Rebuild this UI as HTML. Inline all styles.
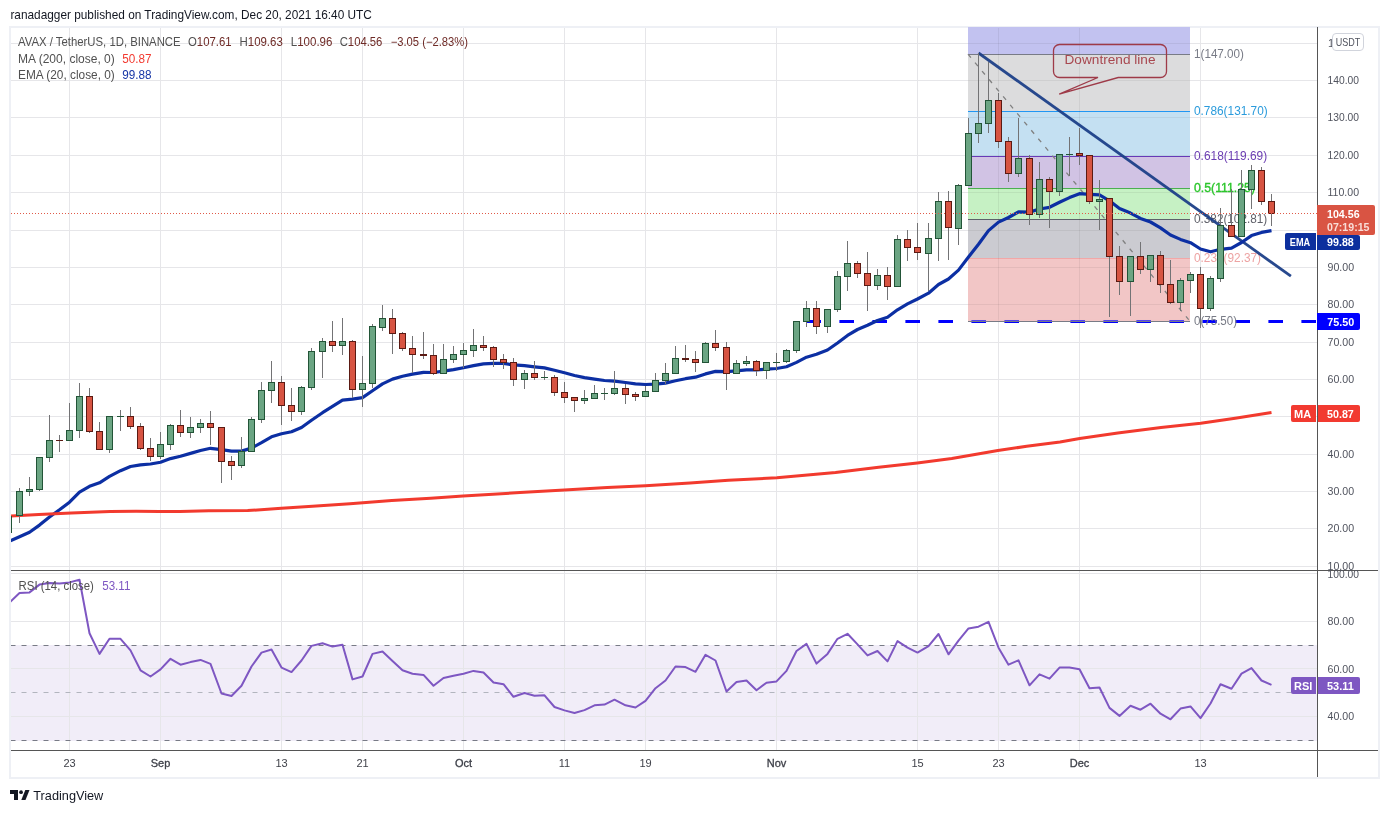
<!DOCTYPE html>
<html><head><meta charset="utf-8"><title>AVAX / TetherUS chart</title>
<style>
html,body{margin:0;padding:0;background:#ffffff;}
body{width:1389px;height:813px;overflow:hidden;position:relative;font-family:"Liberation Sans", sans-serif;}
svg{position:absolute;left:0;top:0;will-change:transform;}
svg text{font-family:"Liberation Sans", sans-serif;}
</style></head>
<body>
<svg width="1389" height="813" viewBox="0 0 1389 813">
<defs><clipPath id="cm"><rect x="11" y="27" width="1306" height="543"/></clipPath><clipPath id="cr"><rect x="11" y="571" width="1306" height="179"/></clipPath></defs>
<rect x="10" y="27" width="1369" height="751" fill="none" stroke="#eef0f5" stroke-width="2"/>
<g clip-path="url(#cm)">
<line x1="11" y1="43.5" x2="1317" y2="43.5" stroke="#e6e6e9" stroke-width="1"/>
<line x1="11" y1="80.5" x2="1317" y2="80.5" stroke="#e6e6e9" stroke-width="1"/>
<line x1="11" y1="117.5" x2="1317" y2="117.5" stroke="#e6e6e9" stroke-width="1"/>
<line x1="11" y1="155.5" x2="1317" y2="155.5" stroke="#e6e6e9" stroke-width="1"/>
<line x1="11" y1="192.5" x2="1317" y2="192.5" stroke="#e6e6e9" stroke-width="1"/>
<line x1="11" y1="230.5" x2="1317" y2="230.5" stroke="#e6e6e9" stroke-width="1"/>
<line x1="11" y1="267.5" x2="1317" y2="267.5" stroke="#e6e6e9" stroke-width="1"/>
<line x1="11" y1="304.5" x2="1317" y2="304.5" stroke="#e6e6e9" stroke-width="1"/>
<line x1="11" y1="342.5" x2="1317" y2="342.5" stroke="#e6e6e9" stroke-width="1"/>
<line x1="11" y1="379.5" x2="1317" y2="379.5" stroke="#e6e6e9" stroke-width="1"/>
<line x1="11" y1="416.5" x2="1317" y2="416.5" stroke="#e6e6e9" stroke-width="1"/>
<line x1="11" y1="454.5" x2="1317" y2="454.5" stroke="#e6e6e9" stroke-width="1"/>
<line x1="11" y1="491.5" x2="1317" y2="491.5" stroke="#e6e6e9" stroke-width="1"/>
<line x1="11" y1="528.5" x2="1317" y2="528.5" stroke="#e6e6e9" stroke-width="1"/>
<line x1="11" y1="566.5" x2="1317" y2="566.5" stroke="#e6e6e9" stroke-width="1"/>
<line x1="69.5" y1="28" x2="69.5" y2="570" stroke="#e6e6e9" stroke-width="1"/>
<line x1="160.5" y1="28" x2="160.5" y2="570" stroke="#e6e6e9" stroke-width="1"/>
<line x1="281.5" y1="28" x2="281.5" y2="570" stroke="#e6e6e9" stroke-width="1"/>
<line x1="362.5" y1="28" x2="362.5" y2="570" stroke="#e6e6e9" stroke-width="1"/>
<line x1="463.5" y1="28" x2="463.5" y2="570" stroke="#e6e6e9" stroke-width="1"/>
<line x1="564.5" y1="28" x2="564.5" y2="570" stroke="#e6e6e9" stroke-width="1"/>
<line x1="645.5" y1="28" x2="645.5" y2="570" stroke="#e6e6e9" stroke-width="1"/>
<line x1="776.5" y1="28" x2="776.5" y2="570" stroke="#e6e6e9" stroke-width="1"/>
<line x1="917.5" y1="28" x2="917.5" y2="570" stroke="#e6e6e9" stroke-width="1"/>
<line x1="998.5" y1="28" x2="998.5" y2="570" stroke="#e6e6e9" stroke-width="1"/>
<line x1="1079.5" y1="28" x2="1079.5" y2="570" stroke="#e6e6e9" stroke-width="1"/>
<line x1="1200.5" y1="28" x2="1200.5" y2="570" stroke="#e6e6e9" stroke-width="1"/>
<rect x="968" y="258" width="222" height="63" fill="#f2c6c6"/>
<rect x="968" y="219" width="222" height="39" fill="#cbcbd1"/>
<rect x="968" y="188" width="222" height="31" fill="#c6f1c4"/>
<rect x="968" y="156" width="222" height="32" fill="#d1c3e4"/>
<rect x="968" y="111" width="222" height="45" fill="#c4e0f2"/>
<rect x="968" y="54" width="222" height="57" fill="#dcdcdd"/>
<rect x="968" y="27" width="222" height="27" fill="#c2c2f0"/>
<line x1="968" y1="321.5" x2="1190" y2="321.5" stroke="#787b86" stroke-width="1"/>
<line x1="968" y1="258.5" x2="1190" y2="258.5" stroke="#f2a7a7" stroke-width="1"/>
<line x1="968" y1="219.5" x2="1190" y2="219.5" stroke="#5d606b" stroke-width="1"/>
<line x1="968" y1="188.5" x2="1190" y2="188.5" stroke="#4caf50" stroke-width="1"/>
<line x1="968" y1="156.5" x2="1190" y2="156.5" stroke="#673ab7" stroke-width="1"/>
<line x1="968" y1="111.5" x2="1190" y2="111.5" stroke="#2196f3" stroke-width="1"/>
<line x1="968" y1="54.5" x2="1190" y2="54.5" stroke="#787b86" stroke-width="1"/>
<line x1="968" y1="43.5" x2="1190" y2="43.5" stroke="#000" stroke-opacity="0.06" stroke-width="1"/>
<line x1="968" y1="80.5" x2="1190" y2="80.5" stroke="#000" stroke-opacity="0.06" stroke-width="1"/>
<line x1="968" y1="117.5" x2="1190" y2="117.5" stroke="#000" stroke-opacity="0.06" stroke-width="1"/>
<line x1="968" y1="155.5" x2="1190" y2="155.5" stroke="#000" stroke-opacity="0.06" stroke-width="1"/>
<line x1="968" y1="192.5" x2="1190" y2="192.5" stroke="#000" stroke-opacity="0.06" stroke-width="1"/>
<line x1="968" y1="230.5" x2="1190" y2="230.5" stroke="#000" stroke-opacity="0.06" stroke-width="1"/>
<line x1="968" y1="267.5" x2="1190" y2="267.5" stroke="#000" stroke-opacity="0.06" stroke-width="1"/>
<line x1="968" y1="304.5" x2="1190" y2="304.5" stroke="#000" stroke-opacity="0.06" stroke-width="1"/>
<line x1="998.5" y1="28" x2="998.5" y2="321" stroke="#000" stroke-opacity="0.06" stroke-width="1"/>
<line x1="1079.5" y1="28" x2="1079.5" y2="321" stroke="#000" stroke-opacity="0.06" stroke-width="1"/>
<line x1="968" y1="54.147999999999996" x2="1190" y2="321.272" stroke="#808080" stroke-width="1.3" stroke-dasharray="4.5 6.5"/>
<line x1="806.4" y1="321.5" x2="1317" y2="321.5" stroke="#0000ff" stroke-width="3" stroke-dasharray="14.6 18.4"/>
<line x1="968" y1="321.5" x2="1190" y2="321.5" stroke="#787b86" stroke-width="1"/>
<rect x="968" y="319.5" width="222" height="1.5" fill="#f2c6c6" fill-opacity="0.35"/>
<text x="1194" y="58" text-anchor="start" style="font-size:12px;fill:#787b86;" textLength="50" lengthAdjust="spacingAndGlyphs" >1(147.00)</text>
<text x="1194" y="114.8" text-anchor="start" style="font-size:12px;fill:#2a9bdc;" textLength="73.7" lengthAdjust="spacingAndGlyphs" >0.786(131.70)</text>
<text x="1194" y="159.6" text-anchor="start" style="font-size:12px;fill:#6b3db2;" textLength="73.2" lengthAdjust="spacingAndGlyphs" >0.618(119.69)</text>
<text x="1194" y="191.5" text-anchor="start" style="font-size:12px;fill:#2cc62c;" textLength="61" lengthAdjust="spacingAndGlyphs" stroke="#2cc62c" stroke-width="0.35">0.5(111.25)</text>
<text x="1194" y="222.9" text-anchor="start" style="font-size:12px;fill:#5f6069;" textLength="73.2" lengthAdjust="spacingAndGlyphs" >0.382(102.81)</text>
<text x="1194" y="261.7" text-anchor="start" style="font-size:12px;fill:#eda3a3;" textLength="67" lengthAdjust="spacingAndGlyphs" >0.236(92.37)</text>
<text x="1194" y="325" text-anchor="start" style="font-size:12px;fill:#787b86;" textLength="43.1" lengthAdjust="spacingAndGlyphs" >0(75.50)</text>
<line x1="978.5" y1="53" x2="1290.9" y2="276.2" stroke="#1c3f88" stroke-opacity="0.95" stroke-width="2.8" stroke-linecap="butt"/>
<path d="M1118.2,77.5 H1160.5 a6,6 0 0 0 6,-6 V50.5 a6,6 0 0 0 -6,-6 H1059.5 a6,6 0 0 0 -6,6 V71.5 a6,6 0 0 0 6,6 H1098 L1059.2,94.2 Z" fill="none" stroke="#9e3a48" stroke-width="1.3" stroke-linejoin="miter"/>
<text x="1064.5" y="63.8" text-anchor="start" style="font-size:12px;fill:#a84850;" textLength="91" lengthAdjust="spacingAndGlyphs" >Downtrend line</text>
<polyline points="8.5,541.5 19.5,536.7 29.5,532.2 39.5,525.1 49.5,517.0 59.5,509.8 69.5,502.2 79.5,492.1 89.5,486.3 99.5,482.8 109.5,476.4 120.5,470.7 130.5,466.5 140.5,464.8 150.5,464.0 160.5,462.2 170.5,458.6 180.5,456.2 190.5,453.4 200.5,450.5 210.5,448.3 221.5,449.6 231.5,451.1 241.5,451.1 251.5,448.1 261.5,442.6 271.5,436.8 281.5,433.8 291.5,431.7 301.5,427.5 311.5,420.2 322.5,412.7 332.5,406.3 342.5,400.1 352.5,399.1 362.5,397.6 372.5,390.8 382.5,383.9 392.5,379.1 402.5,376.2 412.5,374.1 423.5,372.4 433.5,372.5 443.5,371.2 453.5,369.6 463.5,367.7 473.5,365.6 483.5,363.9 493.5,363.4 503.5,363.4 513.5,364.9 524.5,365.7 534.5,366.9 544.5,367.9 554.5,370.2 564.5,372.8 574.5,375.5 584.5,377.6 594.5,379.1 604.5,380.5 614.5,381.2 625.5,382.5 635.5,383.8 645.5,384.5 655.5,384.1 665.5,383.1 675.5,380.8 685.5,378.7 695.5,377.2 705.5,373.9 715.5,371.4 726.5,371.6 736.5,370.8 746.5,369.9 756.5,369.9 766.5,369.2 776.5,368.5 786.5,366.7 796.5,362.4 806.5,357.2 816.5,354.3 827.5,350.0 837.5,343.0 847.5,335.4 857.5,329.5 867.5,325.3 877.5,320.5 887.5,317.3 897.5,309.8 907.5,303.9 917.5,299.0 928.5,293.2 938.5,284.5 948.5,279.0 958.5,270.1 968.5,257.0 978.5,244.3 988.5,230.6 998.5,222.1 1008.5,217.5 1018.5,211.9 1029.5,212.1 1039.5,209.0 1049.5,207.3 1059.5,202.3 1069.5,197.6 1079.5,193.7 1089.5,194.4 1099.5,194.9 1109.5,200.8 1119.5,208.5 1130.5,213.1 1140.5,218.4 1150.5,222.0 1160.5,227.9 1170.5,235.0 1180.5,239.4 1190.5,242.7 1200.5,249.0 1210.5,251.8 1220.5,249.3 1231.5,248.1 1241.5,242.5 1251.5,235.6 1261.5,232.4 1271.5,230.6" fill="none" stroke="#0c2fa3" stroke-width="3.2" stroke-linejoin="round"/>
<polyline points="8.0,516.2 10.4,516.0 38.9,514.4 71.3,513.1 110.1,511.4 136.1,511.2 159.4,511.5 180.0,511.4 208.9,510.8 247.7,510.6 281.4,508.3 312.5,506.3 350.0,503.7 391.8,500.4 430.7,498.2 463.1,495.9 520.0,492.6 564.4,490.1 607.2,487.6 645.4,485.8 690.0,483.1 728.4,480.2 776.8,477.8 835.5,472.5 878.7,467.3 917.3,462.9 951.8,458.6 974.9,454.6 997.9,450.5 1026.7,446.3 1060.0,442.1 1079.7,438.6 1117.8,432.9 1161.0,427.6 1200.7,423.3 1235.2,418.2 1271.5,412.5" fill="none" stroke="#f23a2e" stroke-width="3" stroke-linejoin="round"/>
<rect x="8" y="516" width="1" height="17" fill="#737375"/>
<rect x="5.5" y="516.5" width="6" height="16" fill="#6ba583" stroke="#225437" stroke-width="1"/>
<rect x="19" y="488" width="1" height="35" fill="#737375"/>
<rect x="16.5" y="491.5" width="6" height="24" fill="#6ba583" stroke="#225437" stroke-width="1"/>
<rect x="29" y="477" width="1" height="19" fill="#737375"/>
<rect x="26.5" y="489.5" width="6" height="2" fill="#6ba583" stroke="#225437" stroke-width="1"/>
<rect x="39" y="457" width="1" height="34" fill="#737375"/>
<rect x="36.5" y="457.5" width="6" height="32" fill="#6ba583" stroke="#225437" stroke-width="1"/>
<rect x="49" y="415" width="1" height="47" fill="#737375"/>
<rect x="46.5" y="440.5" width="6" height="17" fill="#6ba583" stroke="#225437" stroke-width="1"/>
<rect x="59" y="435" width="1" height="17" fill="#737375"/>
<rect x="56" y="440" width="7" height="1" fill="#5b1a13"/>
<rect x="69" y="403" width="1" height="38" fill="#737375"/>
<rect x="66.5" y="430.5" width="6" height="10" fill="#6ba583" stroke="#225437" stroke-width="1"/>
<rect x="79" y="383" width="1" height="55" fill="#737375"/>
<rect x="76.5" y="396.5" width="6" height="34" fill="#6ba583" stroke="#225437" stroke-width="1"/>
<rect x="89" y="388" width="1" height="45" fill="#737375"/>
<rect x="86.5" y="396.5" width="6" height="35" fill="#d75442" stroke="#5b1a13" stroke-width="1"/>
<rect x="99" y="422" width="1" height="28" fill="#737375"/>
<rect x="96.5" y="431.5" width="6" height="18" fill="#d75442" stroke="#5b1a13" stroke-width="1"/>
<rect x="109" y="416" width="1" height="37" fill="#737375"/>
<rect x="106.5" y="416.5" width="6" height="33" fill="#6ba583" stroke="#225437" stroke-width="1"/>
<rect x="120" y="410" width="1" height="21" fill="#737375"/>
<rect x="117" y="416" width="7" height="1" fill="#225437"/>
<rect x="130" y="407" width="1" height="22" fill="#737375"/>
<rect x="127.5" y="416.5" width="6" height="10" fill="#d75442" stroke="#5b1a13" stroke-width="1"/>
<rect x="140" y="423" width="1" height="27" fill="#737375"/>
<rect x="137.5" y="426.5" width="6" height="22" fill="#d75442" stroke="#5b1a13" stroke-width="1"/>
<rect x="150" y="438" width="1" height="23" fill="#737375"/>
<rect x="147.5" y="448.5" width="6" height="8" fill="#d75442" stroke="#5b1a13" stroke-width="1"/>
<rect x="160" y="432" width="1" height="27" fill="#737375"/>
<rect x="157.5" y="444.5" width="6" height="12" fill="#6ba583" stroke="#225437" stroke-width="1"/>
<rect x="170" y="424" width="1" height="26" fill="#737375"/>
<rect x="167.5" y="425.5" width="6" height="19" fill="#6ba583" stroke="#225437" stroke-width="1"/>
<rect x="180" y="410" width="1" height="27" fill="#737375"/>
<rect x="177.5" y="425.5" width="6" height="7" fill="#d75442" stroke="#5b1a13" stroke-width="1"/>
<rect x="190" y="417" width="1" height="21" fill="#737375"/>
<rect x="187.5" y="427.5" width="6" height="5" fill="#6ba583" stroke="#225437" stroke-width="1"/>
<rect x="200" y="419" width="1" height="14" fill="#737375"/>
<rect x="197.5" y="423.5" width="6" height="4" fill="#6ba583" stroke="#225437" stroke-width="1"/>
<rect x="210" y="411" width="1" height="34" fill="#737375"/>
<rect x="207.5" y="423.5" width="6" height="4" fill="#d75442" stroke="#5b1a13" stroke-width="1"/>
<rect x="221" y="427" width="1" height="56" fill="#737375"/>
<rect x="218.5" y="427.5" width="6" height="34" fill="#d75442" stroke="#5b1a13" stroke-width="1"/>
<rect x="231" y="456" width="1" height="24" fill="#737375"/>
<rect x="228.5" y="461.5" width="6" height="4" fill="#d75442" stroke="#5b1a13" stroke-width="1"/>
<rect x="241" y="437" width="1" height="31" fill="#737375"/>
<rect x="238.5" y="451.5" width="6" height="14" fill="#6ba583" stroke="#225437" stroke-width="1"/>
<rect x="251" y="417" width="1" height="35" fill="#737375"/>
<rect x="248.5" y="419.5" width="6" height="32" fill="#6ba583" stroke="#225437" stroke-width="1"/>
<rect x="261" y="382" width="1" height="41" fill="#737375"/>
<rect x="258.5" y="390.5" width="6" height="29" fill="#6ba583" stroke="#225437" stroke-width="1"/>
<rect x="271" y="361" width="1" height="42" fill="#737375"/>
<rect x="268.5" y="382.5" width="6" height="8" fill="#6ba583" stroke="#225437" stroke-width="1"/>
<rect x="281" y="376" width="1" height="49" fill="#737375"/>
<rect x="278.5" y="382.5" width="6" height="23" fill="#d75442" stroke="#5b1a13" stroke-width="1"/>
<rect x="291" y="388" width="1" height="33" fill="#737375"/>
<rect x="288.5" y="405.5" width="6" height="6" fill="#d75442" stroke="#5b1a13" stroke-width="1"/>
<rect x="301" y="386" width="1" height="29" fill="#737375"/>
<rect x="298.5" y="387.5" width="6" height="24" fill="#6ba583" stroke="#225437" stroke-width="1"/>
<rect x="311" y="348" width="1" height="42" fill="#737375"/>
<rect x="308.5" y="351.5" width="6" height="36" fill="#6ba583" stroke="#225437" stroke-width="1"/>
<rect x="322" y="338" width="1" height="40" fill="#737375"/>
<rect x="319.5" y="341.5" width="6" height="10" fill="#6ba583" stroke="#225437" stroke-width="1"/>
<rect x="332" y="321" width="1" height="31" fill="#737375"/>
<rect x="329.5" y="341.5" width="6" height="4" fill="#d75442" stroke="#5b1a13" stroke-width="1"/>
<rect x="342" y="318" width="1" height="37" fill="#737375"/>
<rect x="339.5" y="341.5" width="6" height="4" fill="#6ba583" stroke="#225437" stroke-width="1"/>
<rect x="352" y="340" width="1" height="58" fill="#737375"/>
<rect x="349.5" y="341.5" width="6" height="48" fill="#d75442" stroke="#5b1a13" stroke-width="1"/>
<rect x="362" y="356" width="1" height="51" fill="#737375"/>
<rect x="359.5" y="383.5" width="6" height="6" fill="#6ba583" stroke="#225437" stroke-width="1"/>
<rect x="372" y="324" width="1" height="64" fill="#737375"/>
<rect x="369.5" y="326.5" width="6" height="57" fill="#6ba583" stroke="#225437" stroke-width="1"/>
<rect x="382" y="305" width="1" height="26" fill="#737375"/>
<rect x="379.5" y="318.5" width="6" height="9" fill="#6ba583" stroke="#225437" stroke-width="1"/>
<rect x="392" y="309" width="1" height="45" fill="#737375"/>
<rect x="389.5" y="318.5" width="6" height="15" fill="#d75442" stroke="#5b1a13" stroke-width="1"/>
<rect x="402" y="332" width="1" height="19" fill="#737375"/>
<rect x="399.5" y="333.5" width="6" height="15" fill="#d75442" stroke="#5b1a13" stroke-width="1"/>
<rect x="412" y="336" width="1" height="37" fill="#737375"/>
<rect x="409.5" y="348.5" width="6" height="6" fill="#d75442" stroke="#5b1a13" stroke-width="1"/>
<rect x="423" y="332" width="1" height="27" fill="#737375"/>
<rect x="420" y="354" width="7" height="2" fill="#5b1a13"/>
<rect x="433" y="344" width="1" height="31" fill="#737375"/>
<rect x="430.5" y="355.5" width="6" height="18" fill="#d75442" stroke="#5b1a13" stroke-width="1"/>
<rect x="443" y="344" width="1" height="30" fill="#737375"/>
<rect x="440.5" y="359.5" width="6" height="14" fill="#6ba583" stroke="#225437" stroke-width="1"/>
<rect x="453" y="346" width="1" height="17" fill="#737375"/>
<rect x="450.5" y="354.5" width="6" height="5" fill="#6ba583" stroke="#225437" stroke-width="1"/>
<rect x="463" y="343" width="1" height="25" fill="#737375"/>
<rect x="460.5" y="350.5" width="6" height="4" fill="#6ba583" stroke="#225437" stroke-width="1"/>
<rect x="473" y="329" width="1" height="28" fill="#737375"/>
<rect x="470.5" y="345.5" width="6" height="5" fill="#6ba583" stroke="#225437" stroke-width="1"/>
<rect x="483" y="336" width="1" height="15" fill="#737375"/>
<rect x="480.5" y="345.5" width="6" height="2" fill="#d75442" stroke="#5b1a13" stroke-width="1"/>
<rect x="493" y="346" width="1" height="21" fill="#737375"/>
<rect x="490.5" y="347.5" width="6" height="12" fill="#d75442" stroke="#5b1a13" stroke-width="1"/>
<rect x="503" y="354" width="1" height="15" fill="#737375"/>
<rect x="500.5" y="359.5" width="6" height="3" fill="#d75442" stroke="#5b1a13" stroke-width="1"/>
<rect x="513" y="358" width="1" height="28" fill="#737375"/>
<rect x="510.5" y="362.5" width="6" height="17" fill="#d75442" stroke="#5b1a13" stroke-width="1"/>
<rect x="524" y="370" width="1" height="19" fill="#737375"/>
<rect x="521.5" y="373.5" width="6" height="6" fill="#6ba583" stroke="#225437" stroke-width="1"/>
<rect x="534" y="361" width="1" height="19" fill="#737375"/>
<rect x="531.5" y="373.5" width="6" height="4" fill="#d75442" stroke="#5b1a13" stroke-width="1"/>
<rect x="544" y="371" width="1" height="9" fill="#737375"/>
<rect x="541" y="377" width="7" height="1" fill="#225437"/>
<rect x="554" y="375" width="1" height="21" fill="#737375"/>
<rect x="551.5" y="377.5" width="6" height="15" fill="#d75442" stroke="#5b1a13" stroke-width="1"/>
<rect x="564" y="382" width="1" height="21" fill="#737375"/>
<rect x="561.5" y="392.5" width="6" height="5" fill="#d75442" stroke="#5b1a13" stroke-width="1"/>
<rect x="574" y="397" width="1" height="15" fill="#737375"/>
<rect x="571.5" y="397.5" width="6" height="3" fill="#d75442" stroke="#5b1a13" stroke-width="1"/>
<rect x="584" y="390" width="1" height="14" fill="#737375"/>
<rect x="581.5" y="398.5" width="6" height="2" fill="#6ba583" stroke="#225437" stroke-width="1"/>
<rect x="594" y="385" width="1" height="14" fill="#737375"/>
<rect x="591.5" y="393.5" width="6" height="5" fill="#6ba583" stroke="#225437" stroke-width="1"/>
<rect x="604" y="388" width="1" height="12" fill="#737375"/>
<rect x="601" y="393" width="7" height="1" fill="#225437"/>
<rect x="614" y="371" width="1" height="24" fill="#737375"/>
<rect x="611.5" y="388.5" width="6" height="5" fill="#6ba583" stroke="#225437" stroke-width="1"/>
<rect x="625" y="384" width="1" height="20" fill="#737375"/>
<rect x="622.5" y="388.5" width="6" height="6" fill="#d75442" stroke="#5b1a13" stroke-width="1"/>
<rect x="635" y="392" width="1" height="9" fill="#737375"/>
<rect x="632.5" y="394.5" width="6" height="2" fill="#d75442" stroke="#5b1a13" stroke-width="1"/>
<rect x="645" y="386" width="1" height="11" fill="#737375"/>
<rect x="642.5" y="391.5" width="6" height="5" fill="#6ba583" stroke="#225437" stroke-width="1"/>
<rect x="655" y="373" width="1" height="19" fill="#737375"/>
<rect x="652.5" y="380.5" width="6" height="11" fill="#6ba583" stroke="#225437" stroke-width="1"/>
<rect x="665" y="363" width="1" height="21" fill="#737375"/>
<rect x="662.5" y="373.5" width="6" height="7" fill="#6ba583" stroke="#225437" stroke-width="1"/>
<rect x="675" y="346" width="1" height="28" fill="#737375"/>
<rect x="672.5" y="358.5" width="6" height="15" fill="#6ba583" stroke="#225437" stroke-width="1"/>
<rect x="685" y="345" width="1" height="17" fill="#737375"/>
<rect x="682" y="358" width="7" height="2" fill="#5b1a13"/>
<rect x="695" y="351" width="1" height="21" fill="#737375"/>
<rect x="692.5" y="359.5" width="6" height="3" fill="#d75442" stroke="#5b1a13" stroke-width="1"/>
<rect x="705" y="342" width="1" height="21" fill="#737375"/>
<rect x="702.5" y="343.5" width="6" height="19" fill="#6ba583" stroke="#225437" stroke-width="1"/>
<rect x="715" y="330" width="1" height="21" fill="#737375"/>
<rect x="712.5" y="343.5" width="6" height="4" fill="#d75442" stroke="#5b1a13" stroke-width="1"/>
<rect x="726" y="342" width="1" height="48" fill="#737375"/>
<rect x="723.5" y="347.5" width="6" height="26" fill="#d75442" stroke="#5b1a13" stroke-width="1"/>
<rect x="736" y="360" width="1" height="14" fill="#737375"/>
<rect x="733.5" y="363.5" width="6" height="10" fill="#6ba583" stroke="#225437" stroke-width="1"/>
<rect x="746" y="356" width="1" height="10" fill="#737375"/>
<rect x="743.5" y="361.5" width="6" height="2" fill="#6ba583" stroke="#225437" stroke-width="1"/>
<rect x="756" y="360" width="1" height="16" fill="#737375"/>
<rect x="753.5" y="361.5" width="6" height="9" fill="#d75442" stroke="#5b1a13" stroke-width="1"/>
<rect x="766" y="362" width="1" height="17" fill="#737375"/>
<rect x="763.5" y="362.5" width="6" height="8" fill="#6ba583" stroke="#225437" stroke-width="1"/>
<rect x="776" y="353" width="1" height="18" fill="#737375"/>
<rect x="773" y="362" width="7" height="1" fill="#225437"/>
<rect x="786" y="349" width="1" height="14" fill="#737375"/>
<rect x="783.5" y="350.5" width="6" height="11" fill="#6ba583" stroke="#225437" stroke-width="1"/>
<rect x="796" y="321" width="1" height="32" fill="#737375"/>
<rect x="793.5" y="321.5" width="6" height="29" fill="#6ba583" stroke="#225437" stroke-width="1"/>
<rect x="806" y="301" width="1" height="26" fill="#737375"/>
<rect x="803.5" y="308.5" width="6" height="13" fill="#6ba583" stroke="#225437" stroke-width="1"/>
<rect x="816" y="301" width="1" height="33" fill="#737375"/>
<rect x="813.5" y="308.5" width="6" height="18" fill="#d75442" stroke="#5b1a13" stroke-width="1"/>
<rect x="827" y="309" width="1" height="24" fill="#737375"/>
<rect x="824.5" y="309.5" width="6" height="17" fill="#6ba583" stroke="#225437" stroke-width="1"/>
<rect x="837" y="271" width="1" height="41" fill="#737375"/>
<rect x="834.5" y="276.5" width="6" height="33" fill="#6ba583" stroke="#225437" stroke-width="1"/>
<rect x="847" y="241" width="1" height="50" fill="#737375"/>
<rect x="844.5" y="263.5" width="6" height="13" fill="#6ba583" stroke="#225437" stroke-width="1"/>
<rect x="857" y="261" width="1" height="17" fill="#737375"/>
<rect x="854.5" y="263.5" width="6" height="10" fill="#d75442" stroke="#5b1a13" stroke-width="1"/>
<rect x="867" y="252" width="1" height="59" fill="#737375"/>
<rect x="864.5" y="273.5" width="6" height="12" fill="#d75442" stroke="#5b1a13" stroke-width="1"/>
<rect x="877" y="269" width="1" height="21" fill="#737375"/>
<rect x="874.5" y="275.5" width="6" height="10" fill="#6ba583" stroke="#225437" stroke-width="1"/>
<rect x="887" y="267" width="1" height="33" fill="#737375"/>
<rect x="884.5" y="275.5" width="6" height="11" fill="#d75442" stroke="#5b1a13" stroke-width="1"/>
<rect x="897" y="235" width="1" height="52" fill="#737375"/>
<rect x="894.5" y="239.5" width="6" height="47" fill="#6ba583" stroke="#225437" stroke-width="1"/>
<rect x="907" y="230" width="1" height="31" fill="#737375"/>
<rect x="904.5" y="239.5" width="6" height="8" fill="#d75442" stroke="#5b1a13" stroke-width="1"/>
<rect x="917" y="223" width="1" height="37" fill="#737375"/>
<rect x="914.5" y="247.5" width="6" height="5" fill="#d75442" stroke="#5b1a13" stroke-width="1"/>
<rect x="928" y="223" width="1" height="68" fill="#737375"/>
<rect x="925.5" y="238.5" width="6" height="15" fill="#6ba583" stroke="#225437" stroke-width="1"/>
<rect x="938" y="192" width="1" height="69" fill="#737375"/>
<rect x="935.5" y="201.5" width="6" height="37" fill="#6ba583" stroke="#225437" stroke-width="1"/>
<rect x="948" y="191" width="1" height="69" fill="#737375"/>
<rect x="945.5" y="201.5" width="6" height="26" fill="#d75442" stroke="#5b1a13" stroke-width="1"/>
<rect x="958" y="184" width="1" height="61" fill="#737375"/>
<rect x="955.5" y="185.5" width="6" height="43" fill="#6ba583" stroke="#225437" stroke-width="1"/>
<rect x="968" y="118" width="1" height="68" fill="#737375"/>
<rect x="965.5" y="133.5" width="6" height="52" fill="#6ba583" stroke="#225437" stroke-width="1"/>
<rect x="978" y="53" width="1" height="90" fill="#737375"/>
<rect x="975.5" y="123.5" width="6" height="10" fill="#6ba583" stroke="#225437" stroke-width="1"/>
<rect x="988" y="62" width="1" height="71" fill="#737375"/>
<rect x="985.5" y="100.5" width="6" height="23" fill="#6ba583" stroke="#225437" stroke-width="1"/>
<rect x="998" y="93" width="1" height="55" fill="#737375"/>
<rect x="995.5" y="100.5" width="6" height="41" fill="#d75442" stroke="#5b1a13" stroke-width="1"/>
<rect x="1008" y="137" width="1" height="45" fill="#737375"/>
<rect x="1005.5" y="141.5" width="6" height="32" fill="#d75442" stroke="#5b1a13" stroke-width="1"/>
<rect x="1018" y="118" width="1" height="59" fill="#737375"/>
<rect x="1015.5" y="158.5" width="6" height="15" fill="#6ba583" stroke="#225437" stroke-width="1"/>
<rect x="1029" y="155" width="1" height="70" fill="#737375"/>
<rect x="1026.5" y="158.5" width="6" height="56" fill="#d75442" stroke="#5b1a13" stroke-width="1"/>
<rect x="1039" y="162" width="1" height="56" fill="#737375"/>
<rect x="1036.5" y="179.5" width="6" height="35" fill="#6ba583" stroke="#225437" stroke-width="1"/>
<rect x="1049" y="177" width="1" height="51" fill="#737375"/>
<rect x="1046.5" y="179.5" width="6" height="12" fill="#d75442" stroke="#5b1a13" stroke-width="1"/>
<rect x="1059" y="154" width="1" height="42" fill="#737375"/>
<rect x="1056.5" y="154.5" width="6" height="37" fill="#6ba583" stroke="#225437" stroke-width="1"/>
<rect x="1069" y="137" width="1" height="39" fill="#737375"/>
<rect x="1066" y="154" width="7" height="1" fill="#225437"/>
<rect x="1079" y="128" width="1" height="37" fill="#737375"/>
<rect x="1076.5" y="153.5" width="6" height="2" fill="#d75442" stroke="#5b1a13" stroke-width="1"/>
<rect x="1089" y="156" width="1" height="48" fill="#737375"/>
<rect x="1086.5" y="155.5" width="6" height="46" fill="#d75442" stroke="#5b1a13" stroke-width="1"/>
<rect x="1099" y="180" width="1" height="50" fill="#737375"/>
<rect x="1096.5" y="199.5" width="6" height="2" fill="#6ba583" stroke="#225437" stroke-width="1"/>
<rect x="1109" y="198" width="1" height="119" fill="#737375"/>
<rect x="1106.5" y="198.5" width="6" height="58" fill="#d75442" stroke="#5b1a13" stroke-width="1"/>
<rect x="1119" y="246" width="1" height="49" fill="#737375"/>
<rect x="1116.5" y="256.5" width="6" height="25" fill="#d75442" stroke="#5b1a13" stroke-width="1"/>
<rect x="1130" y="257" width="1" height="59" fill="#737375"/>
<rect x="1127.5" y="256.5" width="6" height="25" fill="#6ba583" stroke="#225437" stroke-width="1"/>
<rect x="1140" y="242" width="1" height="32" fill="#737375"/>
<rect x="1137.5" y="256.5" width="6" height="13" fill="#d75442" stroke="#5b1a13" stroke-width="1"/>
<rect x="1150" y="256" width="1" height="26" fill="#737375"/>
<rect x="1147.5" y="255.5" width="6" height="14" fill="#6ba583" stroke="#225437" stroke-width="1"/>
<rect x="1160" y="251" width="1" height="42" fill="#737375"/>
<rect x="1157.5" y="255.5" width="6" height="29" fill="#d75442" stroke="#5b1a13" stroke-width="1"/>
<rect x="1170" y="260" width="1" height="44" fill="#737375"/>
<rect x="1167.5" y="284.5" width="6" height="18" fill="#d75442" stroke="#5b1a13" stroke-width="1"/>
<rect x="1180" y="278" width="1" height="33" fill="#737375"/>
<rect x="1177.5" y="280.5" width="6" height="22" fill="#6ba583" stroke="#225437" stroke-width="1"/>
<rect x="1190" y="272" width="1" height="21" fill="#737375"/>
<rect x="1187.5" y="274.5" width="6" height="6" fill="#6ba583" stroke="#225437" stroke-width="1"/>
<rect x="1200" y="267" width="1" height="61" fill="#737375"/>
<rect x="1197.5" y="274.5" width="6" height="34" fill="#d75442" stroke="#5b1a13" stroke-width="1"/>
<rect x="1210" y="276" width="1" height="35" fill="#737375"/>
<rect x="1207.5" y="278.5" width="6" height="30" fill="#6ba583" stroke="#225437" stroke-width="1"/>
<rect x="1220" y="208" width="1" height="74" fill="#737375"/>
<rect x="1217.5" y="225.5" width="6" height="53" fill="#6ba583" stroke="#225437" stroke-width="1"/>
<rect x="1231" y="189" width="1" height="48" fill="#737375"/>
<rect x="1228.5" y="225.5" width="6" height="11" fill="#d75442" stroke="#5b1a13" stroke-width="1"/>
<rect x="1241" y="170" width="1" height="67" fill="#737375"/>
<rect x="1238.5" y="189.5" width="6" height="47" fill="#6ba583" stroke="#225437" stroke-width="1"/>
<rect x="1251" y="165" width="1" height="44" fill="#737375"/>
<rect x="1248.5" y="170.5" width="6" height="19" fill="#6ba583" stroke="#225437" stroke-width="1"/>
<rect x="1261" y="167" width="1" height="38" fill="#737375"/>
<rect x="1258.5" y="170.5" width="6" height="31" fill="#d75442" stroke="#5b1a13" stroke-width="1"/>
<rect x="1271" y="194" width="1" height="32" fill="#737375"/>
<rect x="1268.5" y="201.5" width="6" height="12" fill="#d75442" stroke="#5b1a13" stroke-width="1"/>
<line x1="11" y1="213.5" x2="1317" y2="213.5" stroke="#e05a48" stroke-width="1" stroke-dasharray="1 2"/>
</g>
<g clip-path="url(#cr)">
<rect x="11" y="645" width="1306" height="96" fill="#7e57c2" fill-opacity="0.11"/>
<line x1="69.5" y1="571" x2="69.5" y2="750" stroke="#e6e6e9" stroke-width="1"/>
<line x1="160.5" y1="571" x2="160.5" y2="750" stroke="#e6e6e9" stroke-width="1"/>
<line x1="281.5" y1="571" x2="281.5" y2="750" stroke="#e6e6e9" stroke-width="1"/>
<line x1="362.5" y1="571" x2="362.5" y2="750" stroke="#e6e6e9" stroke-width="1"/>
<line x1="463.5" y1="571" x2="463.5" y2="750" stroke="#e6e6e9" stroke-width="1"/>
<line x1="564.5" y1="571" x2="564.5" y2="750" stroke="#e6e6e9" stroke-width="1"/>
<line x1="645.5" y1="571" x2="645.5" y2="750" stroke="#e6e6e9" stroke-width="1"/>
<line x1="776.5" y1="571" x2="776.5" y2="750" stroke="#e6e6e9" stroke-width="1"/>
<line x1="917.5" y1="571" x2="917.5" y2="750" stroke="#e6e6e9" stroke-width="1"/>
<line x1="998.5" y1="571" x2="998.5" y2="750" stroke="#e6e6e9" stroke-width="1"/>
<line x1="1079.5" y1="571" x2="1079.5" y2="750" stroke="#e6e6e9" stroke-width="1"/>
<line x1="1200.5" y1="571" x2="1200.5" y2="750" stroke="#e6e6e9" stroke-width="1"/>
<line x1="11" y1="573.5" x2="1317" y2="573.5" stroke="#e6e6e9" stroke-width="1"/>
<line x1="11" y1="621.5" x2="1317" y2="621.5" stroke="#e6e6e9" stroke-width="1"/>
<line x1="11" y1="668.5" x2="1317" y2="668.5" stroke="#e6e6e9" stroke-width="1"/>
<line x1="11" y1="716.5" x2="1317" y2="716.5" stroke="#e6e6e9" stroke-width="1"/>
<line x1="11" y1="645.5" x2="1317" y2="645.5" stroke="#787b86" stroke-width="1" stroke-dasharray="5 6" stroke-dashoffset="0.5"/>
<line x1="11" y1="692.5" x2="1317" y2="692.5" stroke="#b2b5be" stroke-width="1" stroke-dasharray="5 6" stroke-dashoffset="0.5"/>
<line x1="11" y1="740.5" x2="1317" y2="740.5" stroke="#787b86" stroke-width="1" stroke-dasharray="5 6" stroke-dashoffset="0.5"/>
<polyline points="8.5,603.4 19.5,593.0 29.5,592.4 39.5,584.6 49.5,583.0 59.5,583.5 69.5,582.4 79.5,579.7 89.5,633.3 99.5,653.9 109.5,638.8 120.5,638.8 130.5,650.4 140.5,670.3 150.5,676.5 160.5,669.4 170.5,658.8 180.5,664.7 190.5,662.1 200.5,659.9 210.5,663.9 221.5,693.5 231.5,696.0 241.5,685.8 251.5,666.5 261.5,652.6 271.5,649.5 281.5,667.6 291.5,672.1 301.5,660.5 311.5,645.9 322.5,643.3 332.5,646.6 342.5,644.8 352.5,679.4 362.5,676.5 372.5,653.9 382.5,651.5 392.5,661.0 402.5,670.3 412.5,673.8 423.5,674.9 433.5,685.8 443.5,678.0 453.5,675.8 463.5,673.8 473.5,670.9 483.5,672.5 493.5,682.5 503.5,684.2 513.5,696.8 524.5,693.0 534.5,695.7 544.5,695.3 554.5,707.0 564.5,710.4 574.5,713.0 584.5,710.1 594.5,705.3 604.5,704.6 614.5,699.7 625.5,705.3 635.5,707.5 645.5,700.8 655.5,688.2 665.5,680.5 675.5,666.5 685.5,667.1 695.5,671.8 705.5,654.8 715.5,660.5 726.5,691.5 736.5,682.0 746.5,680.5 756.5,690.2 766.5,682.7 776.5,681.4 786.5,670.9 796.5,651.0 806.5,643.9 816.5,663.6 827.5,653.9 837.5,638.8 847.5,633.8 857.5,644.4 867.5,655.4 877.5,651.0 887.5,661.4 897.5,641.1 907.5,647.7 917.5,652.6 928.5,646.1 938.5,634.0 948.5,654.3 958.5,640.6 968.5,628.4 978.5,626.7 988.5,621.8 998.5,647.7 1008.5,664.7 1018.5,660.3 1029.5,685.3 1039.5,674.3 1049.5,678.7 1059.5,667.6 1069.5,667.6 1079.5,669.2 1089.5,688.2 1099.5,687.5 1109.5,707.9 1119.5,715.9 1130.5,705.7 1140.5,709.7 1150.5,703.7 1160.5,713.7 1170.5,719.3 1180.5,708.6 1190.5,706.4 1200.5,718.1 1210.5,703.5 1220.5,684.2 1231.5,688.7 1241.5,673.6 1251.5,668.1 1261.5,680.5 1271.5,684.9" fill="none" stroke="#7e57c2" stroke-width="2" stroke-linejoin="round"/>
</g>
<rect x="11" y="570" width="1367" height="1" fill="#555555"/>
<rect x="11" y="750" width="1367" height="1" fill="#555555"/>
<rect x="1317" y="27" width="1" height="750" fill="#555555"/>
<text x="10.4" y="19.2" text-anchor="start" style="font-size:13px;fill:#131722;" textLength="361.5" lengthAdjust="spacingAndGlyphs" >ranadagger published on TradingView.com, Dec 20, 2021 16:40 UTC</text>
<text x="18" y="45.8" text-anchor="start" style="font-size:12px;fill:#505050;" textLength="162.6" lengthAdjust="spacingAndGlyphs" >AVAX / TetherUS, 1D, BINANCE</text>
<text x="188" y="45.8" text-anchor="start" style="font-size:12px;fill:#505050;" textLength="43.6" lengthAdjust="spacingAndGlyphs" >O<tspan fill="#6e2a26">107.61</tspan></text>
<text x="239.5" y="45.8" text-anchor="start" style="font-size:12px;fill:#505050;" textLength="43.3" lengthAdjust="spacingAndGlyphs" >H<tspan fill="#6e2a26">109.63</tspan></text>
<text x="290.8" y="45.8" text-anchor="start" style="font-size:12px;fill:#505050;" textLength="41.6" lengthAdjust="spacingAndGlyphs" >L<tspan fill="#6e2a26">100.96</tspan></text>
<text x="339.7" y="45.8" text-anchor="start" style="font-size:12px;fill:#505050;" textLength="42.7" lengthAdjust="spacingAndGlyphs" >C<tspan fill="#6e2a26">104.56</tspan></text>
<text x="390.7" y="45.8" text-anchor="start" style="font-size:12px;fill:#6e2a26;" textLength="77.3" lengthAdjust="spacingAndGlyphs" >−3.05 (−2.83%)</text>
<text x="18" y="62.8" text-anchor="start" style="font-size:12px;fill:#505050;" textLength="96.8" lengthAdjust="spacingAndGlyphs" >MA (200, close, 0)</text>
<text x="122.3" y="62.8" text-anchor="start" style="font-size:12px;fill:#f23a30;" textLength="29.3" lengthAdjust="spacingAndGlyphs" >50.87</text>
<text x="18" y="79.2" text-anchor="start" style="font-size:12px;fill:#505050;" textLength="96.8" lengthAdjust="spacingAndGlyphs" >EMA (20, close, 0)</text>
<text x="122.3" y="79.2" text-anchor="start" style="font-size:12px;fill:#1736a6;" textLength="29.3" lengthAdjust="spacingAndGlyphs" >99.88</text>
<text x="18.6" y="589.9" text-anchor="start" style="font-size:12px;fill:#505050;" textLength="75.3" lengthAdjust="spacingAndGlyphs" >RSI (14, close)</text>
<text x="102.2" y="589.9" text-anchor="start" style="font-size:12px;fill:#7e57c2;" textLength="28.2" lengthAdjust="spacingAndGlyphs" >53.11</text>
<text x="1327.5" y="84.1" text-anchor="start" style="font-size:11px;fill:#50535e;" textLength="31.5" lengthAdjust="spacingAndGlyphs" >140.00</text>
<text x="1327.5" y="121.46" text-anchor="start" style="font-size:11px;fill:#50535e;" textLength="31.5" lengthAdjust="spacingAndGlyphs" >130.00</text>
<text x="1327.5" y="158.82" text-anchor="start" style="font-size:11px;fill:#50535e;" textLength="31.5" lengthAdjust="spacingAndGlyphs" >120.00</text>
<text x="1327.5" y="196.18" text-anchor="start" style="font-size:11px;fill:#50535e;" textLength="31.5" lengthAdjust="spacingAndGlyphs" >110.00</text>
<text x="1327.5" y="233.54000000000002" text-anchor="start" style="font-size:11px;fill:#50535e;" textLength="31.5" lengthAdjust="spacingAndGlyphs" >100.00</text>
<text x="1327.5" y="270.90000000000003" text-anchor="start" style="font-size:11px;fill:#50535e;" textLength="26.6" lengthAdjust="spacingAndGlyphs" >90.00</text>
<text x="1327.5" y="308.26000000000005" text-anchor="start" style="font-size:11px;fill:#50535e;" textLength="26.6" lengthAdjust="spacingAndGlyphs" >80.00</text>
<text x="1327.5" y="345.62000000000006" text-anchor="start" style="font-size:11px;fill:#50535e;" textLength="26.6" lengthAdjust="spacingAndGlyphs" >70.00</text>
<text x="1327.5" y="382.98" text-anchor="start" style="font-size:11px;fill:#50535e;" textLength="26.6" lengthAdjust="spacingAndGlyphs" >60.00</text>
<text x="1327.5" y="420.34000000000003" text-anchor="start" style="font-size:11px;fill:#50535e;" textLength="26.6" lengthAdjust="spacingAndGlyphs" >50.00</text>
<text x="1327.5" y="457.70000000000005" text-anchor="start" style="font-size:11px;fill:#50535e;" textLength="26.6" lengthAdjust="spacingAndGlyphs" >40.00</text>
<text x="1327.5" y="495.06000000000006" text-anchor="start" style="font-size:11px;fill:#50535e;" textLength="26.6" lengthAdjust="spacingAndGlyphs" >30.00</text>
<text x="1327.5" y="532.42" text-anchor="start" style="font-size:11px;fill:#50535e;" textLength="26.6" lengthAdjust="spacingAndGlyphs" >20.00</text>
<text x="1327.5" y="569.78" text-anchor="start" style="font-size:11px;fill:#50535e;" textLength="26.6" lengthAdjust="spacingAndGlyphs" >10.00</text>
<text x="1328" y="46.739999999999995" text-anchor="start" style="font-size:11px;fill:#50535e;" >1</text>
<text x="1327.5" y="577.6999999999999" text-anchor="start" style="font-size:11px;fill:#50535e;" textLength="31.5" lengthAdjust="spacingAndGlyphs" >100.00</text>
<text x="1327.5" y="625.0999999999999" text-anchor="start" style="font-size:11px;fill:#50535e;" textLength="26.6" lengthAdjust="spacingAndGlyphs" >80.00</text>
<text x="1327.5" y="672.4999999999999" text-anchor="start" style="font-size:11px;fill:#50535e;" textLength="26.6" lengthAdjust="spacingAndGlyphs" >60.00</text>
<text x="1327.5" y="719.8999999999999" text-anchor="start" style="font-size:11px;fill:#50535e;" textLength="26.6" lengthAdjust="spacingAndGlyphs" >40.00</text>
<rect x="1332.5" y="33.5" width="31" height="17" rx="3.5" fill="#ffffff" stroke="#d1d4dc" stroke-width="1"/>
<text x="1335.7" y="46" text-anchor="start" style="font-size:11px;fill:#50535e;" textLength="24.5" lengthAdjust="spacingAndGlyphs" >USDT</text>
<path d="M1317,205 H1373 a2,2 0 0 1 2,2 V233 a2,2 0 0 1 -2,2 H1317 Z" fill="#d95443"/>
<path d="M1287,233 H1316 V250 H1287 a2,2 0 0 1 -2,-2 V235 a2,2 0 0 1 2,-2 Z" fill="#0c2f9e"/>
<path d="M1317,235 H1358 a2,2 0 0 1 2,2 V248 a2,2 0 0 1 -2,2 H1317 Z" fill="#0c2f9e"/>
<path d="M1293,405 H1316 V422 H1293 a2,2 0 0 1 -2,-2 V407 a2,2 0 0 1 2,-2 Z" fill="#f23a30"/>
<path d="M1318,405 H1358 a2,2 0 0 1 2,2 V420 a2,2 0 0 1 -2,2 H1318 Z" fill="#f23a30"/>
<path d="M1293,677 H1316 V694 H1293 a2,2 0 0 1 -2,-2 V679 a2,2 0 0 1 2,-2 Z" fill="#7e57c2"/>
<path d="M1318,677 H1358 a2,2 0 0 1 2,2 V692 a2,2 0 0 1 -2,2 H1318 Z" fill="#7e57c2"/>
<path d="M1317,313 H1358 a2,2 0 0 1 2,2 V328 a2,2 0 0 1 -2,2 H1317 Z" fill="#0000ff"/>
<text x="1327.2" y="326" text-anchor="start" style="font-size:11px;fill:#ffffff;font-weight:bold;" textLength="27" lengthAdjust="spacingAndGlyphs" >75.50</text>
<text x="1327" y="217.9" text-anchor="start" style="font-size:11px;fill:#ffffff;font-weight:bold;" textLength="32.6" lengthAdjust="spacingAndGlyphs" >104.56</text>
<text x="1327" y="230.7" text-anchor="start" style="font-size:11px;fill:#f9dcd6;font-weight:bold;" textLength="42.5" lengthAdjust="spacingAndGlyphs" >07:19:15</text>
<text x="1289.8" y="245.9" text-anchor="start" style="font-size:11px;fill:#ffffff;font-weight:bold;" textLength="20.4" lengthAdjust="spacingAndGlyphs" >EMA</text>
<text x="1327" y="245.9" text-anchor="start" style="font-size:11px;fill:#ffffff;font-weight:bold;" textLength="26.8" lengthAdjust="spacingAndGlyphs" >99.88</text>
<text x="1294" y="418" text-anchor="start" style="font-size:11px;fill:#ffffff;font-weight:bold;" >MA</text>
<text x="1327" y="418" text-anchor="start" style="font-size:11px;fill:#ffffff;font-weight:bold;" textLength="26.8" lengthAdjust="spacingAndGlyphs" >50.87</text>
<text x="1294" y="690" text-anchor="start" style="font-size:11px;fill:#ffffff;font-weight:bold;" >RSI</text>
<text x="1327" y="690" text-anchor="start" style="font-size:11px;fill:#ffffff;font-weight:bold;" textLength="26.8" lengthAdjust="spacingAndGlyphs" >53.11</text>
<text x="69.5" y="767" text-anchor="middle" style="font-size:11px;fill:#3f4149;" >23</text>
<text x="160.5" y="767" text-anchor="middle" style="font-size:11px;fill:#3e4049;" stroke="#3e4049" stroke-width="0.3">Sep</text>
<text x="281.5" y="767" text-anchor="middle" style="font-size:11px;fill:#3f4149;" >13</text>
<text x="362.5" y="767" text-anchor="middle" style="font-size:11px;fill:#3f4149;" >21</text>
<text x="463.5" y="767" text-anchor="middle" style="font-size:11px;fill:#3e4049;" stroke="#3e4049" stroke-width="0.3">Oct</text>
<text x="564.5" y="767" text-anchor="middle" style="font-size:11px;fill:#3f4149;" >11</text>
<text x="645.5" y="767" text-anchor="middle" style="font-size:11px;fill:#3f4149;" >19</text>
<text x="776.5" y="767" text-anchor="middle" style="font-size:11px;fill:#3e4049;" stroke="#3e4049" stroke-width="0.3">Nov</text>
<text x="917.5" y="767" text-anchor="middle" style="font-size:11px;fill:#3f4149;" >15</text>
<text x="998.5" y="767" text-anchor="middle" style="font-size:11px;fill:#3f4149;" >23</text>
<text x="1079.5" y="767" text-anchor="middle" style="font-size:11px;fill:#3e4049;" stroke="#3e4049" stroke-width="0.3">Dec</text>
<text x="1200.5" y="767" text-anchor="middle" style="font-size:11px;fill:#3f4149;" >13</text>
<path d="M10,790 H18 V800 H14 V794 H10 Z" fill="#131722"/>
<circle cx="21.05" cy="792.2" r="1.85" fill="#131722"/>
<path d="M25.3,790 H29.5 L25.5,800 H21.3 Z" fill="#131722"/>
<text x="33.3" y="799.9" text-anchor="start" style="font-size:13px;fill:#131722;" textLength="70" lengthAdjust="spacingAndGlyphs" >TradingView</text>
</svg>
</body></html>
